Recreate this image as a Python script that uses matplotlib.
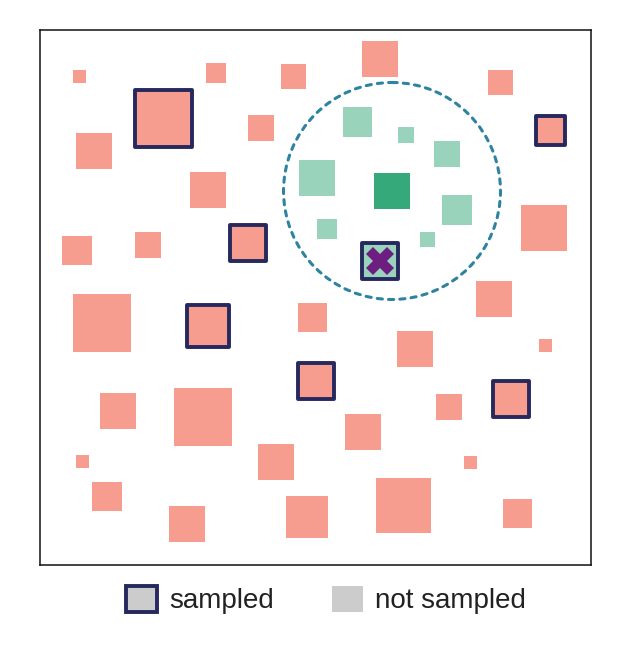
import matplotlib.pyplot as plt
from matplotlib.patches import Rectangle, Circle, Patch

# field coordinates (pixels inside the frame, y pointing down) and square sizes
salmon_x = [39.3, 176, 253, 221.2, 54, 168, 37.2, 107.5, 340, 460, 504.2, 454, 62, 272.7,
            375.2, 505.5, 77.7, 163, 322.5, 408.5, 42.5, 236, 430.2, 67.2, 147, 267, 363.2, 477.3]
salmon_y = [46.7, 42.7, 46.3, 98, 120.8, 160.3, 220.3, 215, 29.3, 52.8, 197.7, 268.7, 293, 287.5,
            319, 315.5, 381, 386.5, 402, 377, 431.3, 432, 432.7, 466.5, 493.8, 486.7, 475.2, 483.3]
salmon_s = [13, 20, 25, 26, 36, 36, 29.5, 26, 36, 25, 46, 36, 58, 29.5,
            36, 13, 36, 58, 36, 26, 13, 36, 13, 29.5, 36, 42, 55, 29.5]

sampled_x = [123.7, 208, 510.3, 168, 275.8, 470.8]
sampled_y = [88.8, 212.8, 100.5, 295.5, 351, 368.5]
sampled_s = [57, 36, 29, 42, 36, 36]

green_x = [277, 287, 317.7, 366.2, 407.3, 417.2, 387.5]
green_y = [148, 199.3, 92.2, 105.2, 123.7, 179.8, 209.3]
green_s = [36, 20, 29.5, 15.7, 26, 29.7, 15]

focal = (352, 161, 36)          # dark green centre square
picked = (339.8, 230.8, 36)     # sampled neighbour marked with X
radius = 108.5

SALMON = '#F79D8F'
LIGHTGREEN = '#9AD3BC'
DARKGREEN = '#36A97A'
NAVY = '#26285E'
PURPLE = '#6E1E80'
TEAL = '#2E83A0'
LW = 2.8


def square(ax, x, y, s, color, edge=None):
    if edge is None:
        r = Rectangle((x - s / 2, y - s / 2), s, s, facecolor=color, edgecolor='none')
    else:
        r = Rectangle((x - s / 2, y - s / 2), s, s, facecolor=color, edgecolor=edge,
                      linewidth=LW, joinstyle='round', zorder=3)
    ax.add_patch(r)


plt.rcParams['font.family'] = ['Liberation Sans', 'DejaVu Sans']
fig = plt.figure(figsize=(6.28, 6.5), dpi=100)
ax = fig.add_axes([40 / 628, 85 / 650, 551 / 628, 535 / 650])
ax.set_xlim(0, 551)
ax.set_ylim(535, 0)
ax.set_xticks([])
ax.set_yticks([])
for sp in ax.spines.values():
    sp.set_linewidth(1.1)
    sp.set_color('#111111')

for x, y, s in zip(salmon_x, salmon_y, salmon_s):
    square(ax, x, y, s, SALMON)
for x, y, s in zip(sampled_x, sampled_y, sampled_s):
    square(ax, x, y, s, SALMON, NAVY)
for x, y, s in zip(green_x, green_y, green_s):
    square(ax, x, y, s, LIGHTGREEN)
square(ax, focal[0], focal[1], focal[2], DARKGREEN)
square(ax, picked[0], picked[1], picked[2], LIGHTGREEN, NAVY)
ax.plot(picked[0], picked[1], marker='X', color=PURPLE, markersize=19.5,
        markeredgewidth=0, zorder=4)

ax.add_patch(Circle((focal[0], focal[1]), radius, fill=False, edgecolor=TEAL,
                    linewidth=2.2, linestyle=(0, (1.7, 2.0)), capstyle='round', zorder=2))

handles = [Patch(facecolor='#CCCCCC', edgecolor=NAVY, linewidth=LW, joinstyle='round'),
           Patch(facecolor='#CCCCCC', edgecolor='none')]
fig.legend(handles, ['sampled', 'not sampled'], loc='center', bbox_to_anchor=(326 / 628, 1 - 600 / 650),
           ncol=2, frameon=False, fontsize=20, handlelength=1.1, handleheight=1.1,
           handletextpad=0.45, columnspacing=2.1, labelcolor='#222222')

fig.savefig('out.png', dpi=100)
